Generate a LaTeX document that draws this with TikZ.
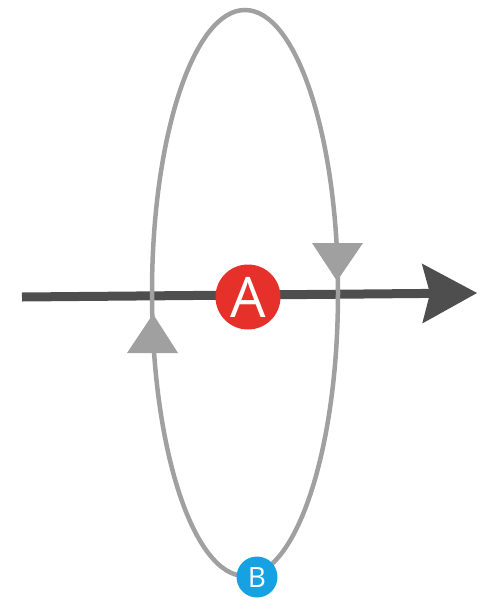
\documentclass[tikz,border=0pt]{standalone}
\usepackage{fontspec}
\setmainfont{Open Sans}
\usetikzlibrary{arrows.meta}
\definecolor{loopgray}{HTML}{A0A0A0}
\definecolor{axisgray}{HTML}{4E4E4E}
\definecolor{redA}{HTML}{E6302A}
\definecolor{blueB}{HTML}{16A2E2}
\tikzset{
  loop/.style={draw=loopgray, line width=4.5pt},
  axis/.style={draw=axisgray, line width=9pt, -{Stealth[length=55pt,width=60pt,inset=8pt,line width=0pt]}},
  dirtri/.style={fill=loopgray},
  pointA/.style={circle, fill=redA, minimum size=65pt, inner sep=0pt, text=white, font=\fontsize{56}{56}\selectfont},
  pointB/.style={circle, fill=blueB, minimum size=41pt, inner sep=0pt, text=white, font=\fontsize{28}{28}\selectfont}
}
\begin{document}
\begin{tikzpicture}[x=1pt,y=-1pt]
\useasboundingbox (0,0) rectangle (487,600);
\coordinate (start) at (22,297);
\coordinate (tip) at (477,293);
\draw[axis] (start) -- (tip);
\draw[loop] (245,293) ellipse [x radius=93, y radius=283];
\fill[dirtri] (312,243) -- (363,243) -- (337,281) -- cycle;
\fill[dirtri] (127,353) -- (178,353) -- (153,314) -- cycle;
\node[pointA] (A) at (248,297) {A};
\node[pointB] (B) at (257,577) {B};
\end{tikzpicture}
\end{document}
